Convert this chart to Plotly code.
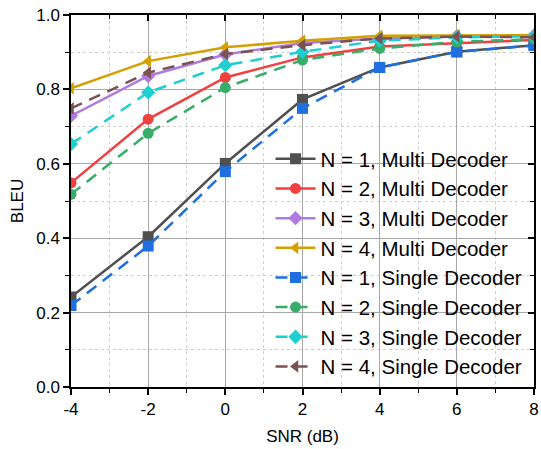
import plotly.graph_objects as go

snr = [-4, -2, 0, 2, 4, 6, 8]
snr_tick_labels = ["-4", "-2", "0", "2", "4", "6", "8"]
bleu_ticks = [0, 0.2, 0.4, 0.6, 0.8, 1.0]

names = [
    "N = 1, Multi Decoder", "N = 2, Multi Decoder", "N = 3, Multi Decoder", "N = 4, Multi Decoder",
    "N = 1, Single Decoder", "N = 2, Single Decoder", "N = 3, Single Decoder", "N = 4, Single Decoder",
]

n1_multi = [0.242, 0.404, 0.601, 0.773, 0.859, 0.901, 0.919]
n2_multi = [0.549, 0.720, 0.832, 0.886, 0.915, 0.925, 0.933]
n3_multi = [0.729, 0.836, 0.894, 0.925, 0.937, 0.943, 0.945]
n4_multi = [0.803, 0.876, 0.913, 0.931, 0.944, 0.946, 0.946]
n1_single = [0.219, 0.379, 0.579, 0.749, 0.859, 0.901, 0.918]
n2_single = [0.518, 0.682, 0.805, 0.879, 0.910, 0.928, 0.935]
n3_single = [0.653, 0.792, 0.865, 0.901, 0.931, 0.940, 0.943]
n4_single = [0.749, 0.845, 0.895, 0.919, 0.937, 0.942, 0.940]

series = [n1_multi, n2_multi, n3_multi, n4_multi, n1_single, n2_single, n3_single, n4_single]
colors = ["#505050", "#F04040", "#B07BE0", "#D4A000", "#1F6FE0", "#36AD68", "#1ECFCF", "#7A5252"]
symbols = ["square", "circle", "diamond", "triangle-left"] * 2
dashes = ["solid"] * 4 + ["12px,8px"] * 4

fig = go.Figure()
for name, ys, c, s, d in zip(names, series, colors, symbols, dashes):
    fig.add_trace(go.Scatter(
        x=snr, y=ys, name=name, mode="lines+markers",
        line=dict(color=c, width=2.5, dash=d),
        marker=dict(symbol=s, size=11, color=c),
    ))

# invisible trace for mirrored inside ticks (top/right)
fig.add_trace(go.Scatter(x=[snr[0]], y=[bleu_ticks[0]], xaxis="x2", yaxis="y2", mode="markers",
                         marker=dict(opacity=0), showlegend=False, hoverinfo="skip"))

font = "Liberation Sans, Arial, sans-serif"
grid_major = "#A8A8A8"
grid_minor = "#CFCFCF"

fig.update_layout(
    width=541, height=449,
    margin=dict(l=71, r=7, t=15, b=62, autoexpand=False),
    paper_bgcolor="white", plot_bgcolor="white",
    font=dict(family=font, size=17, color="black"),
    showlegend=True, hovermode=False,
    legend=dict(
        x=0.986, y=0.0, xanchor="right", yanchor="bottom",
        bgcolor="rgba(0,0,0,0)", borderwidth=0,
        font=dict(size=20.5, family=font),
        itemwidth=40, tracegroupgap=0,
    ),
    xaxis=dict(
        range=[-4, 8], tickvals=snr, ticktext=snr_tick_labels,
        ticks="outside", ticklen=6, tickwidth=1.5, tickcolor="black",
        showline=True, linecolor="black", linewidth=1.5, mirror=True,
        showgrid=True, gridcolor=grid_major, gridwidth=1,
        zeroline=False, automargin=False, ticklabeloverflow="allow",
        minor=dict(dtick=1, ticks="outside", ticklen=4, tickwidth=1.2, tickcolor="black",
                   showgrid=True, gridcolor=grid_minor, griddash="dot", gridwidth=1),
        title=dict(text="SNR (dB)", font=dict(size=17), standoff=12),
        tickfont=dict(size=17),
    ),
    yaxis=dict(
        range=[0, 1.0], tickvals=bleu_ticks, tickformat=".1f",
        ticks="outside", ticklen=6, tickwidth=1.5, tickcolor="black",
        showline=True, linecolor="black", linewidth=1.5, mirror=True,
        showgrid=True, gridcolor=grid_major, gridwidth=1,
        zeroline=False, automargin=False, ticklabeloverflow="allow",
        minor=dict(dtick=0.1, ticks="outside", ticklen=4, tickwidth=1.2, tickcolor="black",
                   showgrid=True, gridcolor=grid_minor, griddash="dot", gridwidth=1),
        title=dict(text="BLEU", font=dict(size=17), standoff=8),
        tickfont=dict(size=17),
    ),
    xaxis2=dict(
        overlaying="x", side="top", range=[-4, 8], tickvals=snr,
        ticks="inside", ticklen=6, tickwidth=1.5, tickcolor="black", automargin=False,
        showticklabels=False, showgrid=False, zeroline=False, showline=False,
        minor=dict(dtick=1, ticks="inside", ticklen=4, tickwidth=1.2, tickcolor="black"),
    ),
    yaxis2=dict(
        overlaying="y", side="right", range=[0, 1.0], tickvals=bleu_ticks,
        ticks="inside", ticklen=6, tickwidth=1.5, tickcolor="black", automargin=False,
        showticklabels=False, showgrid=False, zeroline=False, showline=False,
        minor=dict(dtick=0.1, ticks="inside", ticklen=4, tickwidth=1.2, tickcolor="black"),
    ),
)

# remove the default 8px page margin so the 541x449 figure fills the window exactly
fig.write_html("out.html",
               config={"displayModeBar": False},
               post_script="document.body.style.margin='0px';document.body.style.overflow='hidden';")
